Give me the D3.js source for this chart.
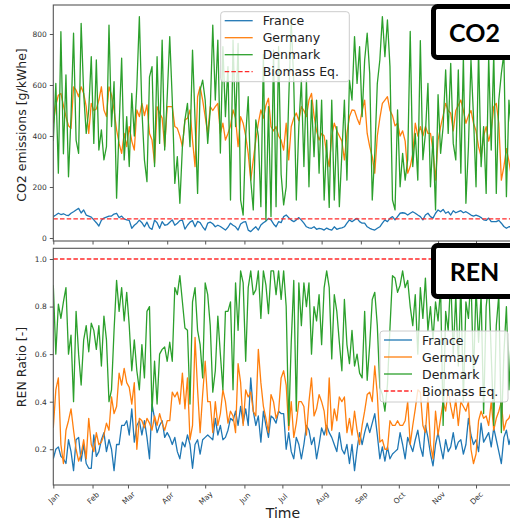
<!DOCTYPE html>
<html lang="en">
<head>
<meta charset="UTF-8">
<title>CO2 and REN ratio</title>
<script src="https://d3js.org/d3.v7.min.js"></script>
<style>
  body { margin: 0; background: #fff; }
  svg { display: block; font-family: "DejaVu Sans", sans-serif; }
</style>
</head>
<body>
<div id="chart"></div>
<script>
// one value every STEP days, starting 1 Jan
var STEP = 2;

var countries = ["France", "Germany", "Denmark"];
var colors = ["#1f77b4", "#ff7f0e", "#2ca02c"];

var co2France = [84,90,97,92,95,90,88,97,103,110, 116,98,110,90,86,82,71,60,47,70,
  78,82,86,86,94,97,80,86,75,71, 69,38,50,58,70,60,44,62,40,34,
  70,60,38,64,50,52,62,71,50,58, 68,70,35,50,62,68,44,65,60,44,
  31,58,62,56,44,50,45,38,31,42, 58,50,44,31,55,62,64,31,25,35,
  44,31,51,60,66,77,71,55,44,64, 60,84,90,80,70,64,71,80,70,58,
  44,40,38,44,34,38,36,31,39,34, 31,44,34,38,40,44,58,71,64,71,
  77,64,58,58,44,38,34,31,38,44, 58,71,64,77,84,71,84,97,99,97,
  90,97,103,97,90,84,71,90,97,84, 78,97,110,103,112,97,103,90,107,99,
  103,107,99,103,97,90,86,90,86,80, 71,69,78,64,64,64,69,58,45,38,
  44,44,44];
var co2Germany = [450,520,560,567,520,476,440,430,593,580, 554,593,567,515,410,528,500,506,541,593,
  502,476,593,560,502,424,371,332,410,358, 437,380,345,502,476,528,480,522,410,384,
  293,515,490,470,358,515,515,515,437,430, 400,358,463,470,502,384,280,554,593,541,
  476,410,515,500,515,528,410,450,384,410, 440,502,470,358,476,450,400,332,227,306,
  384,450,502,470,520,548,437,420,437,400, 384,345,450,306,437,470,490,460,515,500,
  476,541,567,480,420,384,410,400,330,280, 400,450,420,400,380,306,410,476,502,500,
  470,445,500,541,410,358,319,254,400,470, 528,541,554,500,480,440,450,400,420,380,
  254,280,330,450,400,437,400,437,410,410, 345,227,384,437,480,528,500,489,420,500,
  520,541,500,450,480,500,450,420,358,319, 400,437,380,420,515,528,450,227,280,350,
  300,240,220];
var co2Denmark = [380,606,254,809,330,640,240,476,803,384, 332,842,567,410,502,711,371,698,345,424,
  306,358,835,437,613,156,437,705,306,476, 280,567,400,593,868,502,306,221,632,672,
  280,711,371,776,345,554,790,541,214,319, 136,358,463,528,358,737,463,175,580,619,
  541,371,502,835,541,776,333,750,476,672, 149,776,437,763,149,90,400,554,227,110,
  463,400,123,720,70,515,84,737,123,750, 250,130,200,541,855,606,149,437,619,280,
  619,201,541,319,541,254,541,149,384,120, 541,149,437,123,332,541,227,619,541,790,
  606,750,476,698,803,645,149,332,606,698, 868,711,855,672,149,110,502,201,332,227,
  307,810,280,410,227,774,307,410,606,201, 398,110,562,332,436,659,410,685,371,306,
  659,254,711,136,358,698,476,201,737,280, 437,175,711,345,724,175,541,645,724,162,
  541,410,380];
var co2Biomass = 75;

var renFrance = [0.16,0.20,0.21,0.17,0.16,0.14,0.24,0.19,0.11,0.24, 0.25,0.15,0.22,0.14,0.12,0.12,0.26,0.17,0.19,0.24,
  0.27,0.19,0.24,0.20,0.11,0.22,0.22,0.30,0.30,0.32, 0.26,0.37,0.23,0.30,0.32,0.26,0.32,0.25,0.16,0.39,
  0.33,0.27,0.30,0.32,0.25,0.27,0.25,0.22,0.25,0.19, 0.16,0.23,0.21,0.26,0.22,0.12,0.22,0.24,0.18,0.24,
  0.25,0.26,0.25,0.24,0.33,0.26,0.30,0.24,0.25,0.28, 0.33,0.32,0.36,0.30,0.38,0.31,0.37,0.30,0.50,0.36,
  0.30,0.34,0.23,0.36,0.30,0.25,0.34,0.33,0.31,0.36, 0.35,0.35,0.20,0.27,0.19,0.16,0.25,0.22,0.16,0.22,
  0.30,0.28,0.22,0.25,0.16,0.22,0.29,0.26,0.30,0.27, 0.25,0.22,0.19,0.27,0.20,0.18,0.22,0.14,0.22,0.11,
  0.20,0.27,0.22,0.27,0.31,0.27,0.31,0.35,0.26,0.16, 0.21,0.15,0.21,0.16,0.18,0.19,0.20,0.27,0.22,0.16,
  0.25,0.22,0.19,0.24,0.28,0.21,0.17,0.30,0.25,0.18, 0.13,0.22,0.27,0.21,0.16,0.24,0.19,0.21,0.27,0.20,
  0.23,0.24,0.18,0.22,0.33,0.26,0.22,0.24,0.19,0.31, 0.23,0.25,0.27,0.21,0.29,0.24,0.19,0.14,0.25,0.28,
  0.22,0.26,0.30];
var renGermany = [0.29,0.45,0.50,0.22,0.14,0.28,0.32,0.37,0.28,0.20, 0.15,0.18,0.24,0.16,0.33,0.22,0.19,0.27,0.22,0.23,
  0.26,0.31,0.28,0.42,0.35,0.38,0.52,0.47,0.54,0.48, 0.46,0.39,0.48,0.20,0.33,0.32,0.29,0.33,0.31,0.28,
  0.34,0.30,0.35,0.31,0.28,0.32,0.32,0.44,0.42,0.44, 0.39,0.52,0.37,0.50,0.24,0.30,0.67,0.45,0.27,0.43,
  0.57,0.40,0.40,0.27,0.40,0.30,0.35,0.45,0.40,0.31, 0.36,0.34,0.27,0.56,0.48,0.30,0.45,0.42,0.44,0.36,
  0.34,0.62,0.48,0.38,0.33,0.27,0.43,0.40,0.33,0.36, 0.50,0.53,0.47,0.28,0.40,0.25,0.31,0.40,0.40,0.38,
  0.26,0.40,0.50,0.34,0.37,0.43,0.40,0.36,0.26,0.50, 0.28,0.37,0.32,0.42,0.40,0.42,0.27,0.33,0.26,0.36,
  0.28,0.22,0.30,0.36,0.43,0.44,0.40,0.55,0.43,0.23, 0.24,0.20,0.20,0.32,0.30,0.30,0.32,0.30,0.30,0.32,
  0.40,0.22,0.30,0.37,0.45,0.44,0.30,0.27,0.42,0.22, 0.16,0.36,0.26,0.33,0.40,0.36,0.45,0.38,0.33,0.41,
  0.30,0.40,0.38,0.36,0.40,0.20,0.14,0.18,0.32,0.36, 0.33,0.34,0.30,0.40,0.28,0.33,0.36,0.40,0.28,0.32,
  0.33,0.36,0.34];
var renDenmark = [0.89,0.60,0.81,0.75,0.82,0.88,0.60,0.68,0.40,0.78, 0.60,0.47,0.66,0.72,0.61,0.73,0.70,0.62,0.72,0.55,
  0.76,0.66,0.40,0.45,0.70,0.91,0.78,0.88,0.74,0.86, 0.72,0.53,0.66,0.53,0.45,0.64,0.50,0.78,0.80,0.36,
  0.57,0.39,0.60,0.62,0.63,0.57,0.65,0.57,0.88,0.85, 0.93,0.82,0.71,0.70,0.39,0.82,0.88,0.70,0.64,0.50,
  0.90,0.85,0.72,0.44,0.53,0.76,0.60,0.45,0.78,0.78, 0.82,0.45,0.90,0.70,0.95,0.90,0.57,0.88,0.95,0.85,
  0.87,0.95,0.75,0.95,0.89,0.77,0.95,0.95,0.85,0.95, 0.83,0.95,0.80,0.30,0.65,0.91,0.36,0.90,0.72,0.90,
  0.80,0.90,0.60,0.80,0.74,0.85,0.64,0.88,0.95,0.88, 0.58,0.85,0.78,0.65,0.53,0.83,0.64,0.56,0.70,0.55,
  0.60,0.52,0.50,0.78,0.49,0.64,0.83,0.86,0.72,0.46, 0.43,0.36,0.47,0.71,0.93,0.92,0.86,0.89,0.95,0.88,
  0.91,0.80,0.72,0.85,0.60,0.88,0.75,0.92,0.70,0.80, 0.66,0.82,0.74,0.88,0.30,0.78,0.70,0.92,0.60,0.85,
  0.55,0.90,0.40,0.82,0.75,0.93,0.50,0.88,0.65,0.85, 0.35,0.80,0.90,0.60,0.30,0.72,0.85,0.27,0.60,0.80,
  0.45,0.70,0.65];
var renBiomass = 1.0;

var co2Ticks = [0, 200, 400, 600, 800];
var renTicks = [0.2, 0.4, 0.6, 0.8, 1.0];

var width = 510, height = 521;
var left = 53.3, right = 514;

var svg = d3.select("#chart").append("svg")
    .attr("width", width)
    .attr("height", height);

var start = new Date(2017, 0, 1);
var end = new Date(2017, 11, 31);
var x = d3.scaleTime().domain([start, end]).range([left, right]);
function dayOf(i) { return d3.timeDay.offset(start, i * STEP); }

var panels = [
  { id: "co2", top: 5, bottom: 241, domain: [-11.8, 913.7], ticks: co2Ticks, fmt: d3.format("d"),
    label: "CO2 emissions [g/kWhe]", labelY: 125,
    series: [co2France, co2Germany, co2Denmark], biomass: co2Biomass,
    tag: "CO2", tagY: 6.5, legend: { x: 220.7, y: 11.7, w: 128.6, h: 70 }, xLabels: false },
  { id: "ren", top: 248.3, bottom: 485, domain: [0.0497, 1.045], ticks: renTicks, fmt: d3.format(".1f"),
    label: "REN Ratio [-]", labelY: 367,
    series: [renFrance, renGermany, renDenmark], biomass: renBiomass,
    tag: "REN", tagY: 245.5, legend: { x: 380, y: 331, w: 128, h: 71 }, xLabels: true }
];

var biomassColor = "#ff2a2a";

panels.forEach(function(p) {
  var y = d3.scaleLinear().domain(p.domain).range([p.bottom, p.top]);
  var g = svg.append("g");

  g.append("clipPath").attr("id", "clip-" + p.id)
    .append("rect")
    .attr("x", left).attr("y", p.top)
    .attr("width", right - left).attr("height", p.bottom - p.top);

  var plot = g.append("g").attr("clip-path", "url(#clip-" + p.id + ")");

  var line = d3.line()
      .x(function(d, i) { return x(dayOf(i)); })
      .y(function(d) { return y(d); });

  p.series.forEach(function(s, k) {
    plot.append("path")
        .datum(s)
        .attr("fill", "none")
        .attr("stroke", colors[k])
        .attr("stroke-width", 1.3)
        .attr("stroke-linejoin", "round")
        .attr("d", line);
  });

  plot.append("line")
      .attr("x1", left).attr("x2", right)
      .attr("y1", y(p.biomass)).attr("y2", y(p.biomass))
      .attr("stroke", biomassColor)
      .attr("stroke-width", 1.3)
      .attr("stroke-dasharray", "4.5,2.2");

  // frame
  g.append("rect")
      .attr("x", left).attr("y", p.top)
      .attr("width", right - left).attr("height", p.bottom - p.top)
      .attr("fill", "none")
      .attr("stroke", "#555")
      .attr("stroke-width", 1.1);

  // y axis
  var yAxis = g.append("g")
      .attr("transform", "translate(" + left + ",0)")
      .call(d3.axisLeft(y).tickValues(p.ticks).tickFormat(p.fmt).tickSize(3.5).tickPadding(3));
  yAxis.select(".domain").remove();
  yAxis.selectAll("line").attr("stroke", "#555");
  yAxis.selectAll("text").attr("fill", "#333")
      .style("font-family", "DejaVu Sans").style("font-size", "7.5px");

  // x axis
  var xAxis = g.append("g")
      .attr("transform", "translate(0," + p.bottom + ")")
      .call(d3.axisBottom(x).ticks(d3.timeMonth.every(1)).tickFormat(d3.timeFormat("%b")).tickSize(3.5));
  xAxis.select(".domain").remove();
  xAxis.selectAll("line").attr("stroke", "#555");
  if (p.xLabels) {
    xAxis.selectAll("text")
        .attr("fill", "#333")
        .style("font-family", "DejaVu Sans").style("font-size", "7.5px")
        .attr("text-anchor", "middle")
        .attr("y", 0).attr("dy", "0.35em")
        .attr("transform", "translate(0,13) rotate(-45)");
  } else {
    xAxis.selectAll("text").remove();
  }

  // y label
  g.append("text")
      .attr("transform", "translate(26," + p.labelY + ") rotate(-90)")
      .attr("text-anchor", "middle")
      .style("font-size", "12.5px")
      .attr("fill", "#222")
      .text(p.label);

  // legend
  var L = p.legend;
  var leg = g.append("g");
  leg.append("rect")
      .attr("x", L.x).attr("y", L.y).attr("width", L.w).attr("height", L.h)
      .attr("rx", 3)
      .attr("fill", "#fff").attr("fill-opacity", 0.8)
      .attr("stroke", "#ccc").attr("stroke-width", 1);
  var names = countries.concat(["Biomass Eq."]);
  names.forEach(function(n, i) {
    var ry = L.y + 9 + 17 * i;
    leg.append("line")
        .attr("x1", L.x + 4).attr("x2", L.x + 32)
        .attr("y1", ry).attr("y2", ry)
        .attr("stroke", i < 3 ? colors[i] : biomassColor)
        .attr("stroke-width", 1.3)
        .attr("stroke-dasharray", i < 3 ? null : "4.5,2.2");
    leg.append("text")
        .attr("x", L.x + 42).attr("y", ry)
        .attr("dy", "0.36em")
        .style("font-size", "12.5px")
        .attr("fill", "#222")
        .text(n);
  });

  // tag box
  g.append("rect")
      .attr("x", 433.5).attr("y", p.tagY)
      .attr("width", 100).attr("height", 51)
      .attr("rx", 4)
      .attr("fill", "#fff")
      .attr("stroke", "#000")
      .attr("stroke-width", 5);
  g.append("text")
      .attr("x", 474.5).attr("y", p.tagY + 35)
      .attr("text-anchor", "middle")
      .style("font-family", "Lato, 'Open Sans', sans-serif")
      .style("font-weight", "bold")
      .style("font-size", "25px")
      .attr("fill", "#000")
      .text(p.tag);
});

svg.append("text")
    .attr("x", 283).attr("y", 518)
    .attr("text-anchor", "middle")
    .style("font-size", "14px")
    .attr("fill", "#222")
    .text("Time");
</script>
</body>
</html>
